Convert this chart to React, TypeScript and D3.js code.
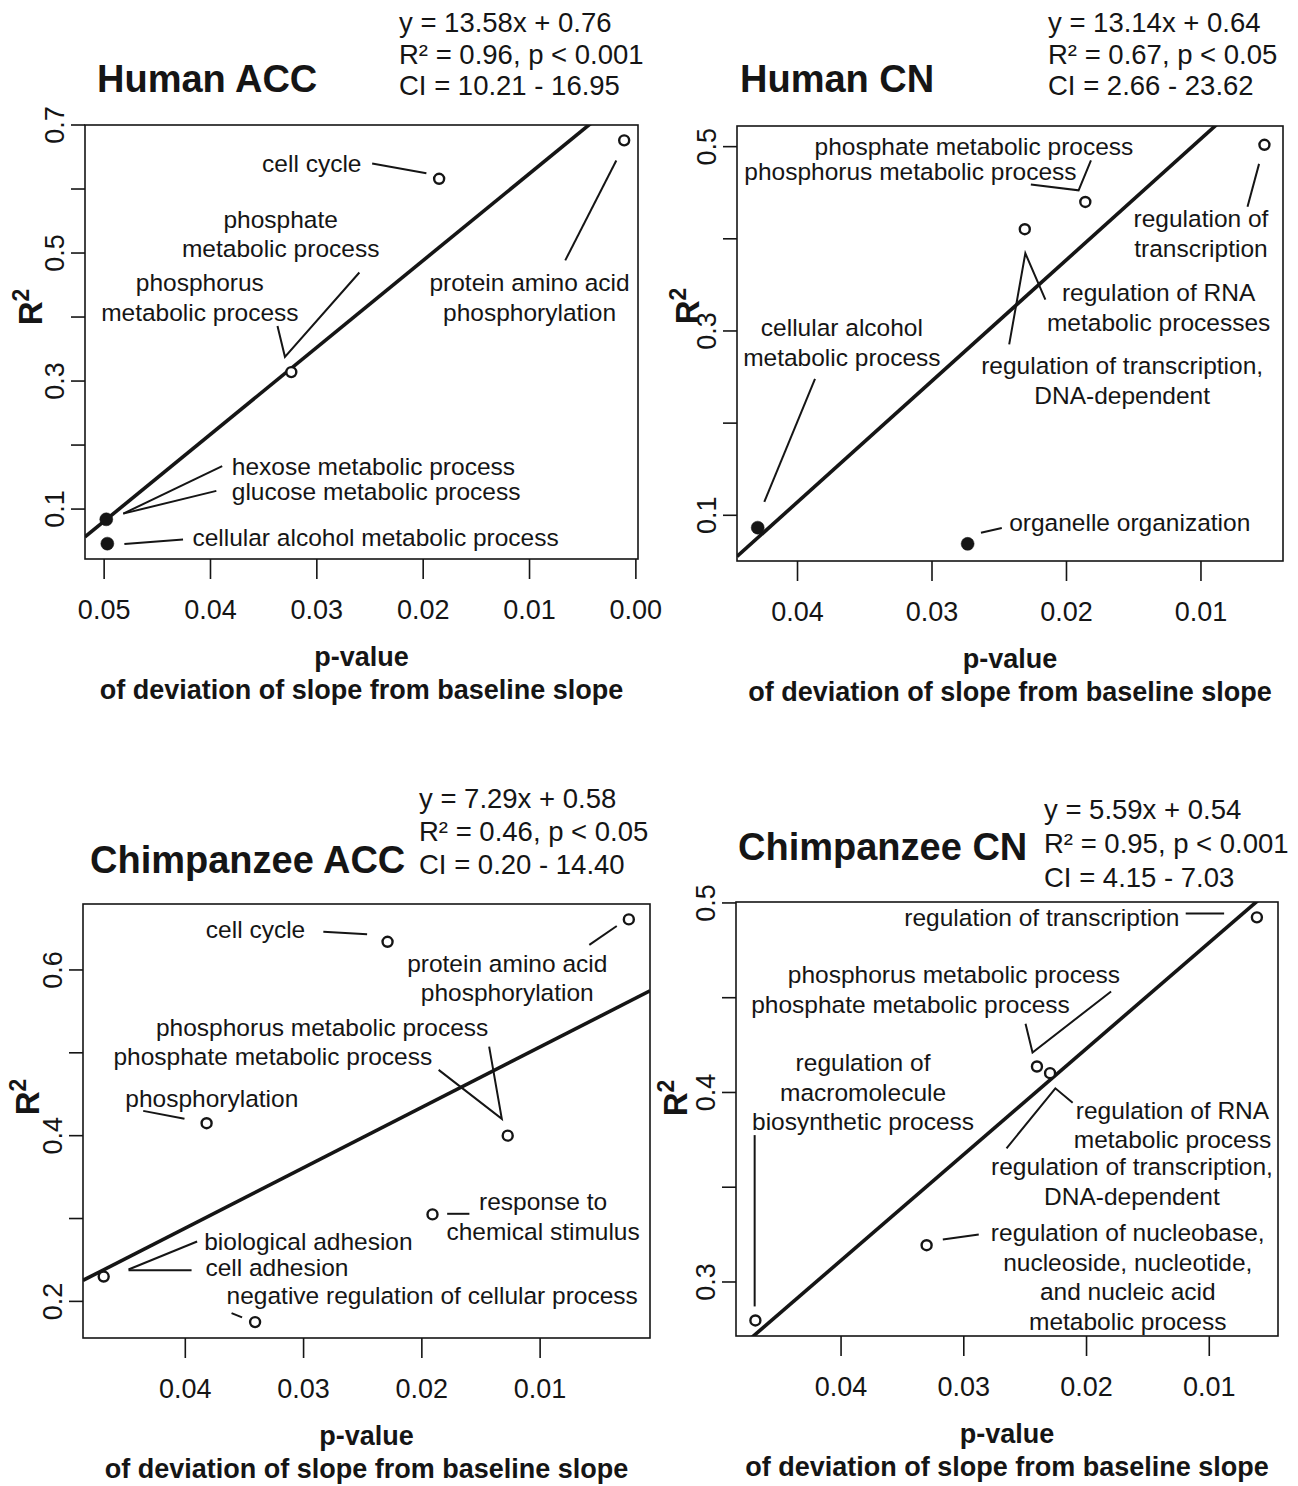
import React from "react";
import * as d3 from "d3";

type Term = { term: string; p: number; r2: number; filled?: boolean };
type Callout = { lines: string[]; p: number; r2: number; anchor: "start" | "middle" | "end" };
type Leader = [number, number][];

// ---- Human ACC ----
const humanAccTerms: Term[] = [
  { term: "cell cycle", p: 0.0185, r2: 0.616 },
  { term: "protein amino acid phosphorylation", p: 0.0011, r2: 0.676 },
  { term: "phosphate / phosphorus metabolic process", p: 0.0324, r2: 0.314 },
  { term: "hexose / glucose metabolic process", p: 0.0498, r2: 0.084, filled: true },
  { term: "cellular alcohol metabolic process", p: 0.0497, r2: 0.046, filled: true },
];
const humanAccCallouts: Callout[] = [
  { lines: ["cell cycle"], p: 0.0258, r2: 0.64, anchor: "end" },
  { lines: ["phosphate", "metabolic process"], p: 0.0334, r2: 0.553, anchor: "middle" },
  { lines: ["phosphorus", "metabolic process"], p: 0.041, r2: 0.4535, anchor: "middle" },
  { lines: ["protein amino acid", "phosphorylation"], p: 0.01, r2: 0.4535, anchor: "middle" },
  { lines: ["hexose metabolic process"], p: 0.038, r2: 0.166, anchor: "start" },
  { lines: ["glucose metabolic process"], p: 0.038, r2: 0.127, anchor: "start" },
  { lines: ["cellular alcohol metabolic process"], p: 0.0417, r2: 0.0563, anchor: "start" },
];
const humanAccLeaders: Leader[] = [
  [[0.0248, 0.64], [0.0197, 0.6247]],
  [[0.0337, 0.386], [0.033, 0.3378], [0.026, 0.4696]],
  [[0.00664, 0.4885], [0.00184, 0.6446]],
  [[0.0389, 0.1672], [0.0482, 0.0929]],
  [[0.03945, 0.1284], [0.0482, 0.0929]],
  [[0.0481, 0.0453], [0.04258, 0.0525]],
];
const humanAccXTicks = [0.05, 0.04, 0.03, 0.02, 0.01, 0.0];
const humanAccYTicks = [0.1, 0.2, 0.3, 0.4, 0.5, 0.6, 0.7];
const humanAccYLabels = [0.1, 0.3, 0.5, 0.7];
const humanAccFit = [13.58, 0.76];
const humanAccStats = ["y = 13.58x + 0.76", "R² = 0.96, p < 0.001", "CI = 10.21 - 16.95"];

// ---- Human CN ----
const humanCnTerms: Term[] = [
  { term: "phosphate / phosphorus metabolic process", p: 0.0186, r2: 0.44 },
  { term: "regulation of RNA metabolic processes / transcription, DNA-dependent", p: 0.0231, r2: 0.4104 },
  { term: "regulation of transcription", p: 0.00528, r2: 0.502 },
  { term: "cellular alcohol metabolic process", p: 0.04296, r2: 0.0866, filled: true },
  { term: "organelle organization", p: 0.02735, r2: 0.069, filled: true },
];
const humanCnCallouts: Callout[] = [
  { lines: ["phosphate metabolic process"], p: 0.02688, r2: 0.5, anchor: "middle" },
  { lines: ["phosphorus metabolic process"], p: 0.0316, r2: 0.4728, anchor: "middle" },
  { lines: ["regulation of", "transcription"], p: 0.01, r2: 0.4216, anchor: "middle" },
  { lines: ["regulation of RNA", "metabolic processes"], p: 0.01315, r2: 0.3414, anchor: "middle" },
  { lines: ["regulation of transcription,", "DNA-dependent"], p: 0.01586, r2: 0.2623, anchor: "middle" },
  { lines: ["cellular alcohol", "metabolic process"], p: 0.0367, r2: 0.3034, anchor: "middle" },
  { lines: ["organelle organization"], p: 0.02426, r2: 0.0922, anchor: "start" },
];
const humanCnLeaders: Leader[] = [
  [[0.02265, 0.459], [0.0191, 0.4526], [0.01818, 0.4851]],
  [[0.00568, 0.4813], [0.00654, 0.4347]],
  [[0.02426, 0.2854], [0.02306, 0.3843], [0.02157, 0.334]],
  [[0.0387, 0.2481], [0.04247, 0.1146]],
  [[0.02636, 0.081], [0.02481, 0.0862]],
];
const humanCnXTicks = [0.04, 0.03, 0.02, 0.01];
const humanCnYTicks = [0.1, 0.2, 0.3, 0.4, 0.5];
const humanCnYLabels = [0.1, 0.3, 0.5];
const humanCnFit = [13.14, 0.64];
const humanCnStats = ["y = 13.14x + 0.64", "R² = 0.67, p < 0.05", "CI = 2.66 - 23.62"];

// ---- Chimpanzee ACC ----
const chimpAccTerms: Term[] = [
  { term: "cell cycle", p: 0.0229, r2: 0.634 },
  { term: "protein amino acid phosphorylation", p: 0.0025, r2: 0.661 },
  { term: "phosphorylation", p: 0.0382, r2: 0.415 },
  { term: "phosphorus / phosphate metabolic process", p: 0.01274, r2: 0.4 },
  { term: "response to chemical stimulus", p: 0.0191, r2: 0.305 },
  { term: "biological adhesion / cell adhesion", p: 0.0469, r2: 0.23 },
  { term: "negative regulation of cellular process", p: 0.0341, r2: 0.175 },
];
const chimpAccCallouts: Callout[] = [
  { lines: ["cell cycle"], p: 0.02986, r2: 0.6495, anchor: "end" },
  { lines: ["protein amino acid", "phosphorylation"], p: 0.01278, r2: 0.608, anchor: "middle" },
  { lines: ["phosphorus metabolic process"], p: 0.02843, r2: 0.5311, anchor: "middle" },
  { lines: ["phosphate metabolic process"], p: 0.0326, r2: 0.4955, anchor: "middle" },
  { lines: ["phosphorylation"], p: 0.03776, r2: 0.4452, anchor: "middle" },
  { lines: ["response to", "chemical stimulus"], p: 0.00975, r2: 0.3205, anchor: "middle" },
  { lines: ["biological adhesion"], p: 0.0384, r2: 0.2723, anchor: "start" },
  { lines: ["cell adhesion"], p: 0.0383, r2: 0.2409, anchor: "start" },
  { lines: ["negative regulation of cellular process"], p: 0.03651, r2: 0.2072, anchor: "start" },
];
const chimpAccLeaders: Leader[] = [
  [[0.02833, 0.6462], [0.02463, 0.643]],
  [[0.00584, 0.6302], [0.00352, 0.6531]],
  [[0.01858, 0.4794], [0.01324, 0.4203], [0.01431, 0.5075]],
  [[0.04356, 0.4299], [0.04007, 0.4203]],
  [[0.01786, 0.3057], [0.01598, 0.3057]],
  [[0.039, 0.2723], [0.0448, 0.2385]],
  [[0.03947, 0.2377], [0.0448, 0.2377]],
  [[0.03609, 0.1859], [0.0352, 0.1806]],
];
const chimpAccXTicks = [0.04, 0.03, 0.02, 0.01];
const chimpAccYTicks = [0.2, 0.3, 0.4, 0.5, 0.6];
const chimpAccYLabels = [0.2, 0.4, 0.6];
const chimpAccFit = [7.29, 0.58];
const chimpAccStats = ["y = 7.29x + 0.58", "R² = 0.46, p < 0.05", "CI = 0.20 - 14.40"];

// ---- Chimpanzee CN ----
const chimpCnTerms: Term[] = [
  { term: "regulation of transcription", p: 0.00612, r2: 0.4924 },
  { term: "phosphorus / phosphate metabolic process", p: 0.02404, r2: 0.4137 },
  { term: "regulation of RNA metabolic process / transcription, DNA-dependent", p: 0.02297, r2: 0.4102 },
  { term: "regulation of nucleobase, nucleoside, nucleotide, and nucleic acid metabolic process", p: 0.03303, r2: 0.3194 },
  { term: "regulation of macromolecule biosynthetic process", p: 0.04698, r2: 0.2797 },
];
const chimpCnCallouts: Callout[] = [
  { lines: ["regulation of transcription"], p: 0.01243, r2: 0.4921, anchor: "end" },
  { lines: ["phosphorus metabolic process"], p: 0.0308, r2: 0.4621, anchor: "middle" },
  { lines: ["phosphate metabolic process"], p: 0.03434, r2: 0.4463, anchor: "middle" },
  { lines: ["regulation of", "macromolecule", "biosynthetic process"], p: 0.03821, r2: 0.4158, anchor: "middle" },
  { lines: ["regulation of RNA", "metabolic process"], p: 0.013, r2: 0.3907, anchor: "middle" },
  { lines: ["regulation of transcription,", "DNA-dependent"], p: 0.0163, r2: 0.3608, anchor: "middle" },
  {
    lines: ["regulation of nucleobase,", "nucleoside, nucleotide,", "and nucleic acid", "metabolic process"],
    p: 0.01664,
    r2: 0.3259,
    anchor: "middle",
  },
];
const chimpCnLeaders: Leader[] = [
  [[0.01192, 0.4944], [0.00879, 0.4944]],
  [[0.02497, 0.4362], [0.0244, 0.4211], [0.018, 0.4533]],
  [[0.04704, 0.3775], [0.04704, 0.2871]],
  [[0.02652, 0.3705], [0.02254, 0.4022], [0.02113, 0.3946]],
  [[0.03171, 0.3224], [0.02878, 0.325]],
];
const chimpCnXTicks = [0.04, 0.03, 0.02, 0.01];
const chimpCnYTicks = [0.3, 0.35, 0.4, 0.45, 0.5];
const chimpCnYLabels = [0.3, 0.4, 0.5];
const chimpCnFit = [5.59, 0.535];
const chimpCnStats = ["y = 5.59x + 0.54", "R² = 0.95, p < 0.001", "CI = 4.15 - 7.03"];

const FONT = "'Liberation Sans', Arial, Helvetica, sans-serif";
const INK = "#151515";
const LINE_GAP = 29.5;

interface Layout {
  box: [number, number, number, number];
  xDomain: [number, number];
  yDomain: [number, number];
  title: [number, number];
  stats: [number, number];
  statsGap: number;
  r2Label: [number, number];
}

interface PanelProps {
  id: string;
  title: string;
  stats: string[];
  terms: Term[];
  callouts: Callout[];
  leaders: Leader[];
  xTicks: number[];
  yTicks: number[];
  yLabels: number[];
  fit: number[];
  layout: Layout;
}

const Panel: React.FC<PanelProps> = ({ id, title, stats, terms, callouts, leaders, xTicks, yTicks, yLabels, fit, layout }) => {
  const [l, t, r, b] = layout.box;
  const x = d3.scaleLinear().domain(layout.xDomain).range([l, r]);
  const y = d3.scaleLinear().domain(layout.yDomain).range([b, t]);
  const line = d3.line<[number, number]>().x((d) => x(d[0])).y((d) => y(d[1]));
  const [slope, intercept] = fit;
  // regression drawn as R2 = intercept - slope * p (x axis reversed)
  const fitPts: [number, number][] = layout.xDomain.map((p) => [p, intercept - slope * p]);
  const fmtX = d3.format(".2f");
  const fmtY = d3.format(".1f");
  const cx = (l + r) / 2;

  return (
    <g>
      <defs>
        <clipPath id={`clip-${id}`}>
          <rect x={l} y={t} width={r - l} height={b - t} />
        </clipPath>
      </defs>

      {/* title + fit statistics */}
      <text x={layout.title[0]} y={layout.title[1]} fontSize={38} fontWeight="bold" fill={INK}>
        {title}
      </text>
      {stats.map((s, i) => (
        <text key={s} x={layout.stats[0]} y={layout.stats[1] + i * layout.statsGap} fontSize={27.5} fill={INK}>
          {s}
        </text>
      ))}

      {/* box */}
      <rect x={l} y={t} width={r - l} height={b - t} fill="none" stroke={INK} strokeWidth={1.6} />

      {/* x axis */}
      {xTicks.map((v) => (
        <g key={`x${v}`}>
          <line x1={x(v)} x2={x(v)} y1={b} y2={b + 20} stroke={INK} strokeWidth={1.6} />
          <text x={x(v)} y={b + 51} dy="0.35em" textAnchor="middle" fontSize={27} fill={INK}>
            {fmtX(v)}
          </text>
        </g>
      ))}
      <text x={cx} y={b + 98} dy="0.35em" textAnchor="middle" fontSize={27} fontWeight="bold" fill={INK}>
        p-value
      </text>
      <text x={cx} y={b + 131} dy="0.35em" textAnchor="middle" fontSize={27} fontWeight="bold" fill={INK}>
        of deviation of slope from baseline slope
      </text>

      {/* y axis */}
      {yTicks.map((v) => (
        <line key={`y${v}`} x1={l - 14} x2={l} y1={y(v)} y2={y(v)} stroke={INK} strokeWidth={1.6} />
      ))}
      {yLabels.map((v) => (
        <text
          key={`yl${v}`}
          transform={`translate(${l - 30},${y(v)}) rotate(-90)`}
          dy="0.35em"
          textAnchor="middle"
          fontSize={27}
          fill={INK}
        >
          {fmtY(v)}
        </text>
      ))}
      <text
        transform={`translate(${layout.r2Label[0]},${layout.r2Label[1]}) rotate(-90)`}
        dy="0.35em"
        textAnchor="middle"
        fontSize={33}
        fontWeight="bold"
        fill={INK}
      >
        R
        <tspan fontSize={23} dy="-0.55em">
          2
        </tspan>
      </text>

      {/* regression line */}
      <path d={line(fitPts) ?? ""} clipPath={`url(#clip-${id})`} fill="none" stroke={INK} strokeWidth={3.6} />

      {/* leader lines */}
      {leaders.map((ld, i) => (
        <path key={`ld${i}`} d={line(ld) ?? ""} fill="none" stroke={INK} strokeWidth={2} strokeLinejoin="miter" />
      ))}

      {/* points */}
      {terms.map((d) => (
        <circle
          key={d.term}
          cx={x(d.p)}
          cy={y(d.r2)}
          r={d.filled ? 6.5 : 5}
          fill={d.filled ? INK : "#fff"}
          stroke={INK}
          strokeWidth={d.filled ? 0.5 : 2.4}
        />
      ))}

      {/* callout labels */}
      {callouts.map((c, i) =>
        c.lines.map((s, j) => (
          <text
            key={`c${i}-${j}`}
            x={x(c.p)}
            y={y(c.r2) + j * LINE_GAP}
            dy="0.35em"
            textAnchor={c.anchor}
            fontSize={24.5}
            fill={INK}
          >
            {s}
          </text>
        ))
      )}
    </g>
  );
};

const humanAccLayout: Layout = {
  box: [85, 125, 638, 559],
  xDomain: [0.0518, -0.0002],
  yDomain: [0.022, 0.7],
  title: [97, 92],
  stats: [399, 32],
  statsGap: 31.5,
  r2Label: [30, 307],
};
const humanCnLayout: Layout = {
  box: [737, 126, 1283, 561],
  xDomain: [0.0445, 0.0039],
  yDomain: [0.0504, 0.5224],
  title: [740, 92],
  stats: [1048, 32],
  statsGap: 31.5,
  r2Label: [687, 306],
};
const chimpAccLayout: Layout = {
  box: [83, 904, 650, 1338],
  xDomain: [0.04865, 0.00071],
  yDomain: [0.1558, 0.6796],
  title: [90, 873],
  stats: [419, 808],
  statsGap: 33,
  r2Label: [27, 1097],
};
const chimpCnLayout: Layout = {
  box: [736, 902, 1278, 1336],
  xDomain: [0.04856, 0.0044],
  yDomain: [0.2715, 0.5005],
  title: [738, 860],
  stats: [1044, 819],
  statsGap: 34,
  r2Label: [675, 1098],
};

export default function App() {
  return (
    <svg
      width={1298}
      height={1486}
      viewBox="0 0 1298 1486"
      style={{ position: "absolute", left: 0, top: 0, background: "#fff" }}
      fontFamily={FONT}
    >
      <rect width={1298} height={1486} fill="#fff" />
      <Panel
        id="hacc"
        title="Human ACC"
        stats={humanAccStats}
        terms={humanAccTerms}
        callouts={humanAccCallouts}
        leaders={humanAccLeaders}
        xTicks={humanAccXTicks}
        yTicks={humanAccYTicks}
        yLabels={humanAccYLabels}
        fit={humanAccFit}
        layout={humanAccLayout}
      />
      <Panel
        id="hcn"
        title="Human CN"
        stats={humanCnStats}
        terms={humanCnTerms}
        callouts={humanCnCallouts}
        leaders={humanCnLeaders}
        xTicks={humanCnXTicks}
        yTicks={humanCnYTicks}
        yLabels={humanCnYLabels}
        fit={humanCnFit}
        layout={humanCnLayout}
      />
      <Panel
        id="cacc"
        title="Chimpanzee ACC"
        stats={chimpAccStats}
        terms={chimpAccTerms}
        callouts={chimpAccCallouts}
        leaders={chimpAccLeaders}
        xTicks={chimpAccXTicks}
        yTicks={chimpAccYTicks}
        yLabels={chimpAccYLabels}
        fit={chimpAccFit}
        layout={chimpAccLayout}
      />
      <Panel
        id="ccn"
        title="Chimpanzee CN"
        stats={chimpCnStats}
        terms={chimpCnTerms}
        callouts={chimpCnCallouts}
        leaders={chimpCnLeaders}
        xTicks={chimpCnXTicks}
        yTicks={chimpCnYTicks}
        yLabels={chimpCnYLabels}
        fit={chimpCnFit}
        layout={chimpCnLayout}
      />
    </svg>
  );
}
